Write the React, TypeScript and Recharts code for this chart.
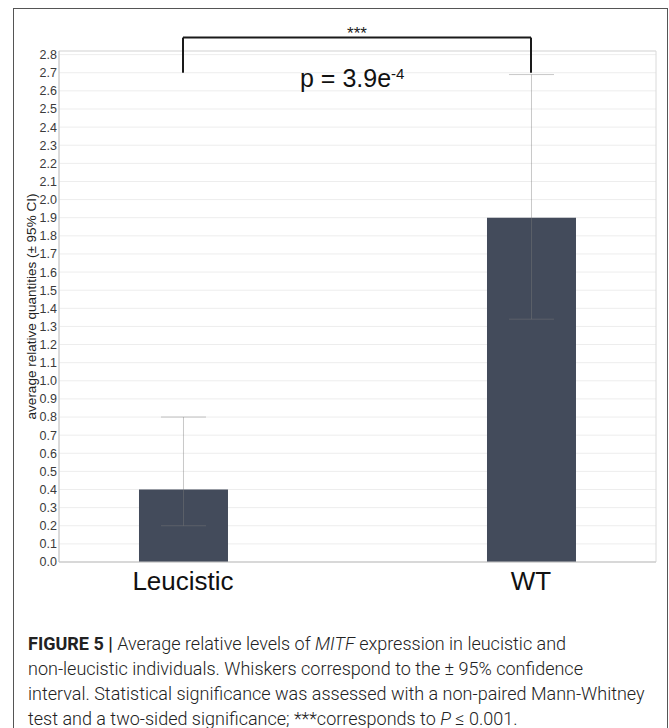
import { BarChart, Bar, XAxis, YAxis, CartesianGrid, ErrorBar, ReferenceLine, ReferenceArea } from 'recharts'

const CATEGORIES = ['Leucistic', 'WT']
const MEANS = [0.4, 1.9]
const CI_LOW = [0.2, 1.34]
const CI_HIGH = [0.8, 2.69]
const Y_TICKS = [0, 0.1, 0.2, 0.3, 0.4, 0.5, 0.6, 0.7, 0.8, 0.9, 1.0, 1.1, 1.2, 1.3, 1.4, 1.5, 1.6, 1.7, 1.8, 1.9, 2.0, 2.1, 2.2, 2.3, 2.4, 2.5, 2.6, 2.7, 2.8]
const Y_MAX = 2.82
const X_DOMAIN = [-0.3563, 1.3592]
const BRACKET_Y = 2.894
const BRACKET_FOOT = 2.7

const data = CATEGORIES.map((name, i) => ({
  name,
  pos: i,
  value: MEANS[i],
  ci: [MEANS[i] - CI_LOW[i], CI_HIGH[i] - MEANS[i]],
}))

const FONT = '"Liberation Sans", Arial, Helvetica, sans-serif'

export default function App() {
  return (
    <div style={{ position: 'absolute', left: 0, top: 0, width: 669, height: 728, overflow: 'hidden', background: '#fff' }}>
      {/* outer figure frame, bottom edge runs off the page */}
      <div style={{ position: 'absolute', left: 13, top: 8, width: 653, height: 800, border: '1.5px solid #555' }} />

      <div style={{ position: 'absolute', left: 0, top: 0 }}>
        <BarChart width={669} height={610} data={data} margin={{ top: 51, right: 13, bottom: 8, left: 0 }}>
          <CartesianGrid vertical={false} stroke="#ededed" />
          <ReferenceArea x1={X_DOMAIN[0]} x2={X_DOMAIN[1]} y1={0} y2={Y_MAX} fill="none" stroke="#dadada" />
          <XAxis
            type="number"
            dataKey="pos"
            domain={X_DOMAIN}
            ticks={[0, 1]}
            tickFormatter={(v: number) => CATEGORIES[v]}
            axisLine={{ stroke: '#c8c8c8' }}
            tickLine={false}
            tickSize={0}
            tickMargin={9.5}
            height={40}
            tick={{ fontSize: 26, fill: '#111', fontFamily: FONT }}
            allowDataOverflow
          />
          <YAxis
            type="number"
            domain={[0, Y_MAX]}
            ticks={Y_TICKS}
            interval={0}
            tickFormatter={(v: number) => v.toFixed(1)}
            axisLine={{ stroke: '#c8c8c8' }}
            tickLine={false}
            tickSize={0}
            tickMargin={2}
            width={59}
            tick={{ fontSize: 12.5, fill: '#3a3a3a', fontFamily: FONT }}
            label={{
              value: 'average relative quantities (± 95% CI)',
              angle: -90,
              position: 'center',
              dx: 1.5,
              style: { fontSize: 13.5, fill: '#222', fontFamily: FONT },
            }}
            allowDataOverflow
          />
          <Bar dataKey="value" fill="#434b5b" barSize={89} isAnimationActive={false}>
            <ErrorBar dataKey="ci" width={22.5} stroke="rgba(125,125,125,0.42)" strokeWidth={1} direction="y" />
          </Bar>
          {/* significance bracket */}
          <ReferenceLine
            segment={[{ x: 0, y: BRACKET_Y }, { x: 1, y: BRACKET_Y }]}
            stroke="#1a1a1a"
            strokeWidth={2}
            ifOverflow="visible"
            label={{ value: '***', position: 'top', offset: -1, style: { fontSize: 17, fill: '#222', fontFamily: FONT } }}
          />
          <ReferenceLine segment={[{ x: 0, y: BRACKET_Y }, { x: 0, y: BRACKET_FOOT }]} stroke="#1a1a1a" strokeWidth={2} ifOverflow="visible" />
          <ReferenceLine segment={[{ x: 1, y: BRACKET_Y }, { x: 1, y: BRACKET_FOOT }]} stroke="#1a1a1a" strokeWidth={2} ifOverflow="visible" />
        </BarChart>
      </div>

      <div style={{ position: 'absolute', left: 300, top: 63, fontFamily: FONT, fontSize: 25, color: '#111', lineHeight: '30px', whiteSpace: 'nowrap' }}>
        p = 3.9e<sup style={{ fontSize: 15, verticalAlign: 'top', position: 'relative', top: -4 }}>-4</sup>
      </div>

      <div
        style={{
          position: 'absolute',
          left: 28,
          top: 631,
          fontFamily: 'Roboto, "Noto Sans", sans-serif',
          fontWeight: 300,
          fontSize: 18,
          lineHeight: '25px',
          color: '#222',
          whiteSpace: 'nowrap',
        }}
      >
        <span style={{ fontWeight: 700 }}>FIGURE 5 | </span>Average relative levels of <i>MITF</i> expression in leucistic and
        <br />
        non-leucistic individuals. Whiskers correspond to the ± 95% confidence
        <br />
        interval. Statistical significance was assessed with a non-paired Mann-Whitney
        <br />
        test and a two-sided significance; ***corresponds to <i>P</i> ≤ 0.001.
      </div>
    </div>
  )
}
